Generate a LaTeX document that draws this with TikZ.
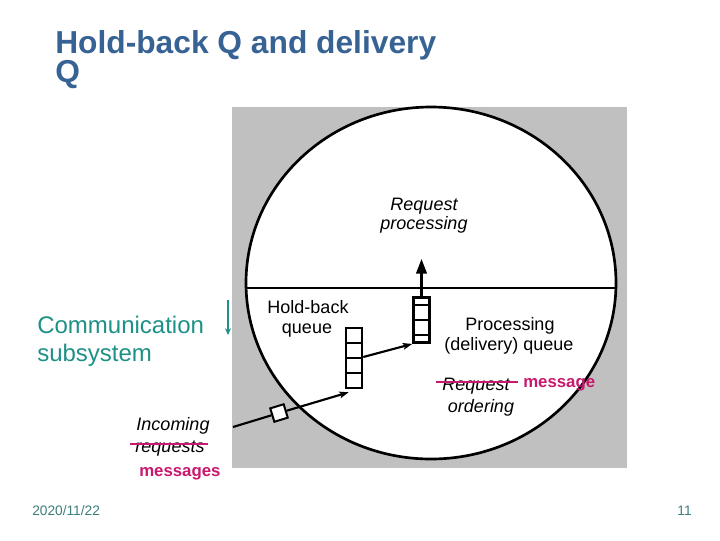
\documentclass[tikz,border=0pt]{standalone}
\usepackage{fontspec}
\setmainfont{Liberation Sans}
\usetikzlibrary{arrows.meta,calc}
\definecolor{titleblue}{RGB}{55,98,148}
\definecolor{tealtxt}{RGB}{30,145,135}
\definecolor{datecol}{RGB}{60,125,125}
\definecolor{mag}{RGB}{200,25,110}
\definecolor{bggray}{RGB}{192,192,192}
\begin{document}
\begin{tikzpicture}[x=0.75pt,y=-0.75pt,
  lbl/.style={inner sep=0pt,anchor=base,font=\fontsize{13.5}{15}\selectfont},
  ilbl/.style={lbl,font=\fontsize{13.5}{15}\selectfont\itshape},
  maglbl/.style={inner sep=0pt,anchor=base west,text=mag,font=\fontsize{12.6}{14}\selectfont\bfseries},
  strike/.style={draw=mag,line width=2.2pt},
  queuebox/.style={draw,line width=1.9pt,minimum width=12pt,inner sep=0pt},
  flow/.style={line width=1.6pt,-{Stealth[length=7pt,width=5pt,inset=1.5pt]}},
  msgbox/.style={draw,fill=white,line width=1.5pt,minimum size=10.5pt,inner sep=0pt,rotate=17}]
\useasboundingbox (0,0) rectangle (720,540);
% title
\node[anchor=base west,inner sep=0pt,text=titleblue,font=\fontsize{23.8}{21.75}\selectfont\bfseries] (t1) at (55,53) {Hold-back Q and delivery};
\node[anchor=base west,inner sep=0pt,text=titleblue,font=\fontsize{23.8}{21.75}\selectfont\bfseries] (t2) at (55,82) {Q};
% background picture
\fill[bggray] (232,107) rectangle (627,468);
\draw[line width=2pt,fill=white] (431,283) ellipse [x radius=185,y radius=176];
\coordinate (hl) at (246,288);
\coordinate (hr) at (616,288);
\draw[line width=1.6pt] (hl) -- (hr);
% queues
\node[queuebox,minimum height=45pt] (hb) at (354,358) {};
\foreach \yy in {343,358,373} \draw[line width=1.9pt] (346,\yy) -- (362,\yy);
\node[queuebox,minimum height=34pt] (dq) at (421.5,320) {};
\foreach \yy in {305,320,335} \draw[line width=1.9pt] (413,\yy) -- (430,\yy);
% arrows
\coordinate (up) at (421.5,259);
\draw[line width=1.6pt,-{Triangle[length=11pt,width=8pt]}] (dq.north) -- (up);
\draw[flow] (hb.east |- 0,357) -- (dq.south west);
\coordinate (inc) at (233,427);
\node[msgbox] (msg) at (279,413) {};
\draw[line width=1.6pt] (inc) -- (msg);
\draw[flow] (msg) -- ($(hb.south west)+(4,3)$);
% labels inside
\node[ilbl] (rq1) at (424,210) {Request};
\node[ilbl] (rq2) at (424,229) {processing};
\node[lbl] (hbl1) at (308,313) {Hold-back};
\node[lbl] (hbl2) at (307,333) {queue};
\node[lbl] (pq1) at (510,330) {Processing};
\node[lbl] (pq2) at (509,350) {(delivery) queue};
\node[ilbl] (ro1) at (476,390) {Request};
\node[ilbl] (ro2) at (481,412) {ordering};
\draw[strike] ($(ro1.base west)+(-6,-8)$) -- ($(ro1.base east)+(8,-8)$);
\node[maglbl] (m1) at (523,387) {message};
% labels outside
\node[ilbl] (in1) at (173,430) {Incoming};
\node[ilbl] (in2) at (170,452) {requests};
\draw[strike] ($(in2.base west)+(-5,-8)$) -- ($(in2.base east)+(3,-8)$);
\node[maglbl] (m2) at (139,476) {messages};
\node[anchor=base west,inner sep=0pt,text=tealtxt,font=\fontsize{18}{21}\selectfont] (cs1) at (37,333) {Communication};
\node[anchor=base west,inner sep=0pt,text=tealtxt,font=\fontsize{18}{21}\selectfont] (cs2) at (37,361) {subsystem};
\coordinate (ta) at (228,300);
\coordinate (tb) at (228,335);
\draw[tealtxt,line width=1.2pt,-{Stealth[length=5pt,width=4.5pt]}] (ta) -- (tb);
% footer
\node[anchor=base west,inner sep=0pt,text=datecol,font=\fontsize{10.3}{11}\selectfont] (date) at (32,515) {2020/11/22};
\node[anchor=base east,inner sep=0pt,text=datecol,font=\fontsize{10.3}{11}\selectfont] (pg) at (692,515) {11};
\end{tikzpicture}
\end{document}
